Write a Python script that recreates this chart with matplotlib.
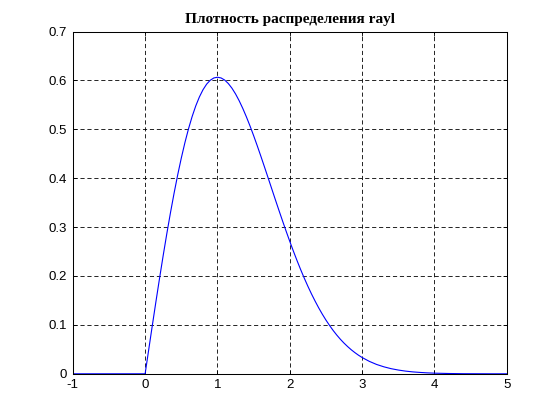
import matplotlib
matplotlib.use('Agg')
import matplotlib.pyplot as plt

# Rayleigh density values
x = [-1.0, 0.0, 0.05, 0.1, 0.15, 0.2, 0.25, 0.3, 0.35, 0.4, 0.45,
     0.5, 0.55, 0.6, 0.65, 0.7, 0.75, 0.8, 0.85, 0.9, 0.95,
     1.0, 1.05, 1.1, 1.15, 1.2, 1.25, 1.3, 1.35, 1.4, 1.45,
     1.5, 1.55, 1.6, 1.65, 1.7, 1.75, 1.8, 1.85, 1.9, 1.95,
     2.0, 2.05, 2.1, 2.15, 2.2, 2.25, 2.3, 2.35, 2.4, 2.45,
     2.5, 2.55, 2.6, 2.65, 2.7, 2.75, 2.8, 2.85, 2.9, 2.95,
     3.0, 3.1, 3.2, 3.3, 3.4, 3.5, 3.6, 3.7, 3.8, 3.9,
     4.0, 4.2, 4.4, 4.6, 4.8, 5.0]
y = [0.0, 0.0, 0.0499, 0.0995, 0.1483, 0.196, 0.2423, 0.2868, 0.3292, 0.3692, 0.4067,
     0.4412, 0.4728, 0.5012, 0.5262, 0.5479, 0.5661, 0.5809, 0.5923, 0.6003, 0.6050,
     0.6065, 0.6050, 0.6007, 0.5936, 0.5841, 0.5723, 0.5584, 0.5427, 0.5254, 0.5068,
     0.4870, 0.4663, 0.4449, 0.4230, 0.4008, 0.3785, 0.3562, 0.3342, 0.3125, 0.2913,
     0.2707, 0.2507, 0.2315, 0.2131, 0.1956, 0.1790, 0.1633, 0.1486, 0.1347, 0.1218,
     0.1098, 0.0988, 0.0885, 0.0791, 0.0705, 0.0627, 0.0556, 0.0491, 0.0433, 0.0380,
     0.0333, 0.0254, 0.0191, 0.0143, 0.0105, 0.0077, 0.0055, 0.0039, 0.0028, 0.0019,
     0.0013, 0.0006, 0.0002, 0.0001, 0.0, 0.0]

xticks = [-1, 0, 1, 2, 3, 4, 5]
xtick_labels = ['-1', '0', '1', '2', '3', '4', '5']
yticks = [0, 0.1, 0.2, 0.3, 0.4, 0.5, 0.6, 0.7]
ytick_labels = ['0', '0.1', '0.2', '0.3', '0.4', '0.5', '0.6', '0.7']

plt.rcParams['font.family'] = ['Liberation Sans', 'DejaVu Sans']
plt.rcParams['lines.scale_dashes'] = False

fig = plt.figure(figsize=(5.6, 4.2), dpi=100)
ax = fig.add_axes([0.13, 0.11, 0.775, 0.815])

ax.plot(x, y, color='#0000ff', linewidth=0.8)

ax.set_xlim(-1, 5)
ax.set_ylim(0, 0.7)
ax.set_xticks(xticks)
ax.set_xticklabels(xtick_labels)
ax.set_yticks(yticks)
ax.set_yticklabels(ytick_labels)
ax.tick_params(direction='in', length=3, width=0.6, labelsize=9.5, pad=4,
               top=True, right=True, colors='black')
for s in ax.spines.values():
    s.set_linewidth(0.75)

ax.grid(True, color='black', linestyle=(0, (3, 2)), linewidth=0.6)

ax.set_title('Плотность распределения rayl', family=['Liberation Serif', 'DejaVu Serif'],
             fontweight='bold', fontsize=11, pad=6)

fig.savefig('out.png', dpi=100)
